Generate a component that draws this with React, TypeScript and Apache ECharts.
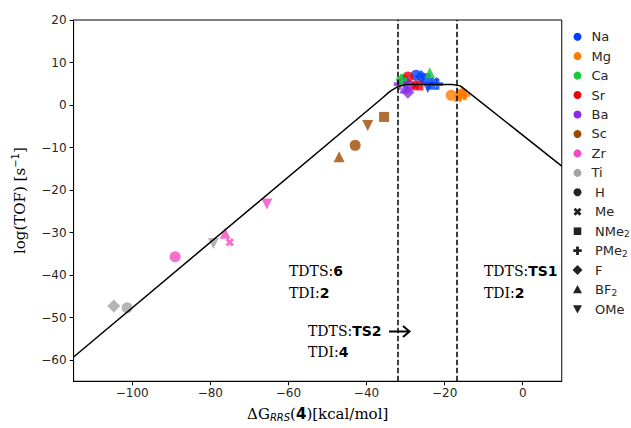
import React, { useEffect, useRef } from 'react';
import * as echarts from 'echarts';

// ---- data ----
const elements = ['Na', 'Mg', 'Ca', 'Sr', 'Ba', 'Sc', 'Zr', 'Ti'];
const elementColors = ['#023eff', '#ff7c00', '#1ac938', '#e8000b', '#8b2be2', '#9f4800', '#f14cc1', '#a3a3a3'];
const ligands = ['H', 'Me', 'NMe2', 'PMe2', 'F', 'BF2', 'OMe'];
const ligandLabels = ['H', 'Me', 'NMe{sub|2}', 'PMe{sub|2}', 'F', 'BF{sub|2}', 'OMe'];

// [ΔG_RRS(4) kcal/mol, log(TOF), element]
const pointsH: [number, number, string][] = [
  [-101.3, -47.7, 'Ti'], [-89, -35.7, 'Zr'], [-42.9, -9.5, 'Sc'], [-27.3, 7.0, 'Na'],
  [-18.3, 2.3, 'Mg'], [-30.6, 5.8, 'Ca'], [-29.0, 4.5, 'Ba'], [-29.4, 6.6, 'Sr'],
];
const pointsMe: [number, number, string][] = [
  [-75, -32.3, 'Zr'], [-16.6, 1.6, 'Mg'], [-22.6, 5.6, 'Na'], [-27.5, 4.6, 'Sr'], [-30.0, 5.5, 'Ba'],
];
const pointsNMe2: [number, number, string][] = [
  [-35.5, -2.8, 'Sc'], [-24.8, 6.3, 'Na'], [-26.7, 4.6, 'Sr'], [-15.6, 2.6, 'Mg'],
];
const pointsPMe2: [number, number, string][] = [
  [-31.6, 4.9, 'Ba'], [-31.0, 6.0, 'Ca'], [-21.8, 4.9, 'Na'], [-14.8, 2.4, 'Mg'],
];
const pointsF: [number, number, string][] = [
  [-104.7, -47.3, 'Ti'], [-29.4, 3.0, 'Ba'], [-26.0, 6.7, 'Na'],
];
const pointsBF2: [number, number, string][] = [
  [-76.2, -30.2, 'Zr'], [-47, -12.2, 'Sc'], [-30.2, 4.0, 'Ba'], [-23.8, 7.6, 'Ca'],
  [-23.4, 4.9, 'Na'], [-15.4, 3.3, 'Mg'],
];
const pointsOMe: [number, number, string][] = [
  [-79.2, -32.6, 'Ti'], [-65.5, -23.3, 'Zr'], [-39.7, -4.8, 'Sc'], [-24.3, 4.1, 'Na'], [-16.0, 1.9, 'Mg'],
];
const ligandPoints = [pointsH, pointsMe, pointsNMe2, pointsPMe2, pointsF, pointsBF2, pointsOMe];

// volcano curve
const curveX = [-115, -36, -34, -32, -30, -18, -16, -14, 10];
const curveY = [-59.3, 1.6, 3.2, 4.3, 4.8, 4.8, 4.5, 3.1, -14.4];

// TDTS boundaries
const tdtsLines = [-32, -17];

const xTicks = [-100, -80, -60, -40, -20, 0];
const yTicks = [-60, -50, -40, -30, -20, -10, 0, 10, 20];

// ---- styling helpers ----
const PLUS = 'path://M-1,-3L1,-3L1,-1L3,-1L3,1L1,1L1,3L-1,3L-1,1L-3,1L-3,-1L-1,-1Z';
const symbolFor: Record<string, any> = {
  H: { symbol: 'circle', symbolSize: 11, symbolRotate: 0 },
  Me: { symbol: PLUS, symbolSize: 9, symbolRotate: 45 },
  NMe2: { symbol: 'rect', symbolSize: 10, symbolRotate: 0 },
  PMe2: { symbol: PLUS, symbolSize: 11, symbolRotate: 0 },
  F: { symbol: 'diamond', symbolSize: 13, symbolRotate: 0 },
  BF2: { symbol: 'triangle', symbolSize: 11, symbolRotate: 0 },
  OMe: { symbol: 'triangle', symbolSize: 11, symbolRotate: 180 },
};

const colorOf = (el: string) => elementColors[elements.indexOf(el)];
const minus = (v: number) => String(v).replace('-', '\u2212');

function plusPoints(cx: number, cy: number, s: number, rot: number) {
  const a = s / 6;
  const b = s / 2;
  const raw = [[-a, -b], [a, -b], [a, -a], [b, -a], [b, a], [a, a], [a, b], [-a, b], [-a, a], [-b, a], [-b, -a], [-a, -a]];
  const c = Math.cos(rot), sn = Math.sin(rot);
  return raw.map(([x, y]) => [cx + x * c - y * sn, cy + x * sn + y * c]);
}

function legendMarker(kind: string, cx: number, cy: number, fill: string) {
  const style = { fill };
  switch (kind) {
    case 'H':
      return { type: 'circle', shape: { cx, cy, r: 4 }, style };
    case 'Me':
      return { type: 'polygon', shape: { points: plusPoints(cx, cy, 8.5, Math.PI / 4) }, style };
    case 'NMe2':
      return { type: 'rect', shape: { x: cx - 3.8, y: cy - 3.8, width: 7.6, height: 7.6 }, style };
    case 'PMe2':
      return { type: 'polygon', shape: { points: plusPoints(cx, cy, 8.5, 0) }, style };
    case 'F':
      return { type: 'polygon', shape: { points: [[cx, cy - 5], [cx + 5, cy], [cx, cy + 5], [cx - 5, cy]] }, style };
    case 'BF2':
      return { type: 'polygon', shape: { points: [[cx, cy - 4.5], [cx + 4.5, cy + 3.8], [cx - 4.5, cy + 3.8]] }, style };
    case 'OMe':
      return { type: 'polygon', shape: { points: [[cx, cy + 4.5], [cx + 4.5, cy - 3.8], [cx - 4.5, cy - 3.8]] }, style };
    default:
      return { type: 'circle', shape: { cx, cy, r: 4 }, style };
  }
}

export default function App() {
  const ref = useRef<HTMLDivElement>(null);

  useEffect(() => {
    if (!ref.current) return;
    const chart = echarts.init(ref.current, undefined, { renderer: 'svg' });

    const scatterSeries = ligands.map((lig, i) => ({
      type: 'scatter',
      name: lig,
      z: 2,
      symbol: symbolFor[lig].symbol,
      symbolSize: symbolFor[lig].symbolSize,
      symbolRotate: symbolFor[lig].symbolRotate,
      data: ligandPoints[i].map((p) => ({ value: [p[0], p[1]], itemStyle: { color: colorOf(p[2]) } })),
    }));

    // legend (drawn as graphic)
    const legendTop = 36.7;
    const legendStep = 19.45;
    const legendItems: any[] = [];
    const textColor = '#262626';
    elements.forEach((el, i) => {
      const cy = legendTop + i * legendStep;
      legendItems.push({ type: 'circle', shape: { cx: 577.5, cy, r: 4 }, style: { fill: elementColors[i] } });
      legendItems.push({
        type: 'text', x: 591.5, y: cy,
        style: { text: el, fill: textColor, fontSize: 13, fontFamily: 'DejaVu Sans', verticalAlign: 'middle' },
      });
    });
    ligands.forEach((lig, j) => {
      const cy = legendTop + (elements.length + j) * legendStep;
      legendItems.push(legendMarker(lig, 577.5, cy, '#222'));
      legendItems.push({
        type: 'text', x: 595, y: cy,
        style: {
          text: ligandLabels[j], fill: textColor, fontSize: 13, fontFamily: 'DejaVu Sans', verticalAlign: 'middle',
          rich: { sub: { fontSize: 9, fontFamily: 'DejaVu Sans', fill: textColor, padding: [6, 0, 0, 0] } },
        },
      });
    });

    const annRich = { b: { fontFamily: 'DejaVu Sans', fontWeight: 'bold', fontSize: 14, fill: '#000' } };
    const ann = (text: string, x: number, y: number) => ({
      type: 'text', x, y, z: 10,
      style: { text, fill: '#000', fontSize: 14, fontFamily: 'DejaVu Serif', verticalAlign: 'middle', rich: annRich },
    });

    const option: any = {
      animation: false,
      backgroundColor: '#fff',
      grid: {
        left: 73.6, right: 69.25, top: 20, bottom: 46.75,
        show: true, borderColor: '#000', borderWidth: 1, backgroundColor: 'transparent',
      },
      xAxis: {
        type: 'value', min: -115, max: 10,
        axisLine: { show: true, onZero: false, lineStyle: { color: '#000', width: 1 } },
        axisTick: { show: true, length: 4, lineStyle: { color: '#000' }, customValues: xTicks },
        axisLabel: {
          customValues: xTicks, formatter: minus, fontFamily: 'DejaVu Sans', fontSize: 12, color: '#262626', margin: 6,
        },
        splitLine: { show: false },
        name: 'ΔG{sub|RRS}({b|4})[kcal/mol]',
        nameLocation: 'middle', nameGap: 24,
        nameTextStyle: {
          fontFamily: 'DejaVu Serif', fontSize: 15, color: '#000',
          rich: {
            sub: { fontFamily: 'DejaVu Sans', fontStyle: 'italic', fontSize: 10, color: '#000', padding: [7, 0, 0, 0] },
            b: { fontFamily: 'DejaVu Sans', fontWeight: 'bold', fontSize: 15, color: '#000' },
          },
        },
      },
      yAxis: {
        type: 'value', min: -65, max: 20,
        axisLine: { show: true, onZero: false, lineStyle: { color: '#000', width: 1 } },
        axisTick: { show: true, length: 4, lineStyle: { color: '#000' }, customValues: yTicks },
        axisLabel: {
          customValues: yTicks, formatter: minus, fontFamily: 'DejaVu Sans', fontSize: 12, color: '#262626', margin: 7,
        },
        splitLine: { show: false },
        name: 'log(TOF) [s{sup|−1}]',
        nameLocation: 'middle', nameGap: 45,
        nameTextStyle: {
          fontFamily: 'DejaVu Serif', fontSize: 15, color: '#000',
          rich: { sup: { fontFamily: 'DejaVu Sans', fontSize: 10, color: '#000', padding: [0, 0, 8, 0] } },
        },
      },
      series: [
        ...scatterSeries,
        {
          type: 'line',
          z: 5,
          symbol: 'none',
          showSymbol: false,
          lineStyle: { color: '#000', width: 1.5 },
          data: curveX.map((x, i) => [x, curveY[i]]),
          markLine: {
            silent: true,
            symbol: ['none', 'none'],
            label: { show: false },
            lineStyle: { color: '#000', width: 1.5, type: [5.5, 2.5] },
            data: tdtsLines.map((x) => ({ xAxis: x })),
          },
        },
      ],
      graphic: [
        ...legendItems,
        ann('TDTS:{b|6}', 289, 271),
        ann('TDI:{b|2}', 289, 293),
        ann('TDTS:{b|TS2}', 308, 331),
        ann('TDI:{b|4}', 308, 352),
        ann('TDTS:{b|TS1}', 484, 271),
        ann('TDI:{b|2}', 484, 293),
        { type: 'line', z: 10, shape: { x1: 389, y1: 331.5, x2: 409, y2: 331.5 }, style: { stroke: '#000', lineWidth: 2 } },
        {
          type: 'polyline', z: 10,
          shape: { points: [[403, 326], [409.5, 331.5], [403, 337]] },
          style: { stroke: '#000', lineWidth: 2, fill: 'none' },
        },
      ],
    };

    chart.setOption(option);
    return () => chart.dispose();
  }, []);

  return (
    <div
      ref={ref}
      style={{ position: 'absolute', left: 0, top: 0, width: 631, height: 428, background: '#fff' }}
    />
  );
}
